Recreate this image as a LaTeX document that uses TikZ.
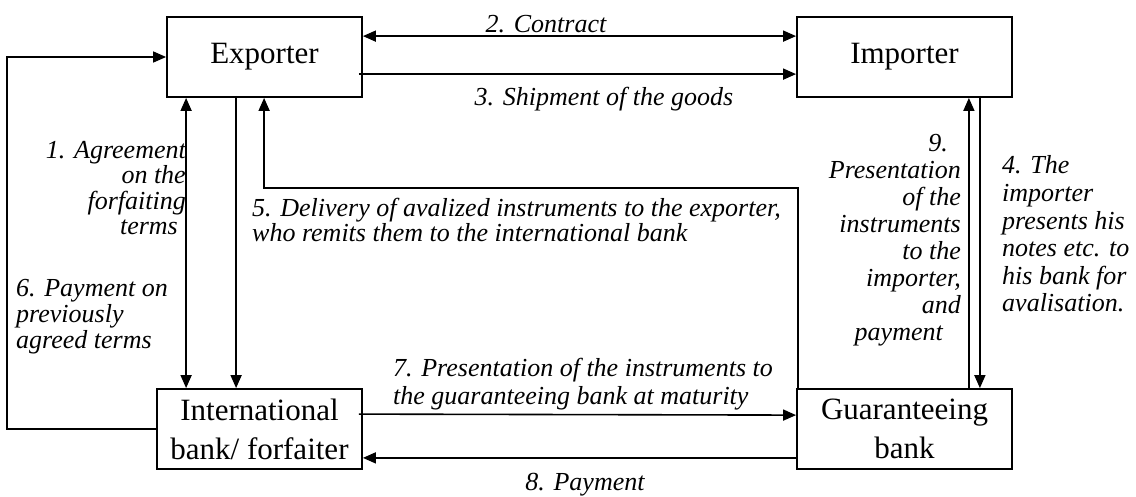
\documentclass[tikz,border=0pt]{standalone}
\usepackage{fontspec}
\setmainfont{Liberation Serif}
\usetikzlibrary{arrows.meta}
\begin{document}
\begin{tikzpicture}[x=1pt,y=-1pt,
  box/.style={draw,line width=1.8pt,inner sep=0pt,align=center,font=\fontsize{31}{39}\selectfont},
  lab/.style={inner sep=0pt,font=\fontsize{26}{26}\selectfont\itshape},
  conn/.style={line width=1.6pt},
  arr/.style={conn,-{Triangle[length=13pt,width=11pt]}},
  darr/.style={conn,{Triangle[length=13pt,width=11pt]}-{Triangle[length=13pt,width=11pt]}}]
\useasboundingbox (0,0) rectangle (1136,496);
% boxes
\node[box,minimum width=195pt,minimum height=80pt] (exp) at (264.5,57) {Exporter};
\node[box,minimum width=215pt,minimum height=80pt] (imp) at (904.5,57) {Importer};
\node[box,minimum width=205pt,minimum height=80pt] (intl) at (259.5,429) {International\\bank/ forfaiter};
\node[box,minimum width=215pt,minimum height=80pt] (guar) at (904.5,429) {Guaranteeing\\bank};
% connectors
\draw[darr] ([yshift=-20pt]exp.north east) -- ([yshift=-20pt]imp.north west);
\draw[arr] ([xshift=-4pt,yshift=-58pt]exp.north east) -- ([yshift=-58pt]imp.north west);
\draw[arr] (intl.west) -- ++(-149,0) |- (exp.west);
\draw[darr] ([xshift=20pt]exp.south west) -- ([xshift=30pt]intl.north west);
\draw[arr] ([xshift=70pt,yshift=2pt]exp.south west) -- ([xshift=80pt]intl.north west);
\draw[arr] ([xshift=2pt]guar.north west) -- ++(0,-200) -| ([xshift=98pt]exp.south west);
\draw[arr] ([xshift=-44pt]guar.north east) -- ([xshift=-44pt]imp.south east);
\draw[arr] ([xshift=-33pt,yshift=2pt]imp.south east) -- ([xshift=-33pt]guar.north east);
\draw[arr] ([xshift=-4pt,yshift=-26pt]intl.north east) -- ([yshift=-27pt]guar.north west);
\draw[arr] ([yshift=12pt]guar.south west) -- ([yshift=12pt]intl.south east);
% labels
\node[lab] (l2) at (546,24) {2. Contract};
\node[lab] (l3) at (604,99) {3. Shipment of the goods};
\node[lab,anchor=east,align=right,font=\fontsize{26}{25.3}\selectfont\itshape] (l1) at (186,188)
  {1. Agreement\\on the\hspace*{3pt}\\forfaiting\hspace*{3pt}\\terms\hspace*{8pt}};
\node[lab,anchor=west,align=left,font=\fontsize{26}{25}\selectfont\itshape] (l5) at (252,220)
  {5. Delivery of avalized instruments to the exporter,\\who remits them to the international bank};
\node[lab,anchor=west,align=left,font=\fontsize{26}{26}\selectfont\itshape] (l6) at (16,317)
  {6. Payment on\\previously\\agreed terms};
\node[lab,anchor=west,align=left,font=\fontsize{26}{28}\selectfont\itshape] (l7) at (393,384)
  {7. Presentation of the instruments to\\the guaranteeing bank at maturity};
\node[lab] (l8) at (585,485) {8. Payment};
\node[lab,anchor=east,align=right,font=\fontsize{26}{27}\selectfont\itshape] (l9) at (961,240)
  {9.\hspace*{13pt}\\Presentation\\of the\hspace*{8pt}\\instruments\hspace*{2pt}\\to the\hspace*{8pt}\\importer,\hspace*{4pt}\\and\hspace*{11pt}\\payment\hspace*{18pt}};
\node[lab,anchor=west,align=left,font=\fontsize{26}{27.6}\selectfont\itshape] (l4) at (1002,234)
  {4. The\\importer\\presents his\\notes etc. to\\his bank for\\avalisation.};
\end{tikzpicture}
\end{document}
